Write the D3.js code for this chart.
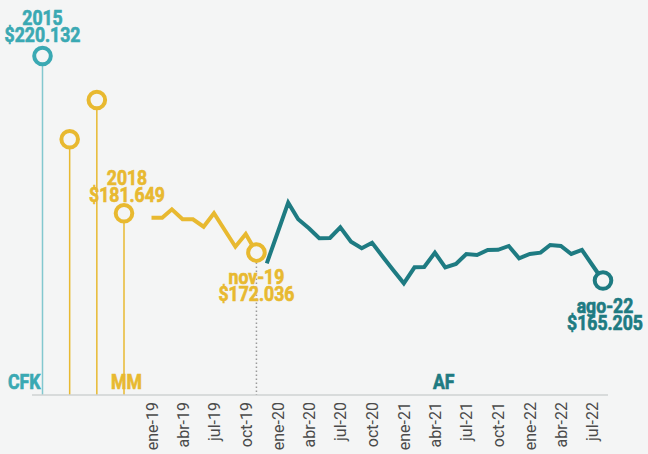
<!DOCTYPE html>
<html>
<head>
<meta charset="utf-8">
<script src="https://cdn.jsdelivr.net/npm/d3@7"></script>
<style>
  body { margin: 0; background: #f4f5f5; }
  svg { display: block; }
</style>
</head>
<body>
<div id="chart"></div>
<script>
// yearly averages (miles de pesos)
var years = [2015, 2016, 2017, 2018]
var yearValues = [220.132, 199.75, 209.37, 181.649]
var yearColors = ["#3aa9b3", "#e8b930", "#e8b930", "#e8b930"]

// monthly series
var mmMonths = ["2019-01","2019-02","2019-03","2019-04","2019-05","2019-06","2019-07","2019-08","2019-09","2019-10","2019-11"]
var mmValues = [180.57, 180.57, 182.62, 180.18, 180.18, 178.37, 181.65, 177.56, 173.47, 176.58, 172.036]

var afMonths = ["2019-12","2020-01","2020-02","2020-03","2020-04","2020-05","2020-06","2020-07","2020-08","2020-09","2020-10","2020-11","2020-12",
  "2021-01","2021-02","2021-03","2021-04","2021-05","2021-06","2021-07","2021-08","2021-09","2021-10","2021-11","2021-12",
  "2022-01","2022-02","2022-03","2022-04","2022-05","2022-06","2022-07","2022-08"]
var afValues = [169.41, 176.83, 184.24, 180.18, 177.98, 175.53, 175.6, 178.22, 174.70, 173.08, 174.45, 171.03, 167.77,
  164.52, 168.43, 168.5, 172.01, 168.43, 169.24, 171.69, 171.44, 172.67, 172.7, 173.65, 170.64,
  171.69, 172.01, 173.89, 173.65, 171.69, 172.67, 169.00, 165.205]

var tickMonths = ["2019-01","2019-04","2019-07","2019-10","2020-01","2020-04","2020-07","2020-10","2021-01","2021-04","2021-07","2021-10","2022-01","2022-04","2022-07"]
var tickLabels = ["ene-19","abr-19","jul-19","oct-19","ene-20","abr-20","jul-20","oct-20","ene-21","abr-21","jul-21","oct-21","ene-22","abr-22","jul-22"]

var TEAL_L = "#3aa9b3", TEAL_D = "#1e7b82", YEL = "#e8b930", BG = "#f4f5f5"

var width = 648, height = 454, baseY = 395

var parseM = d3.timeParse("%Y-%m")

var svg = d3.select("#chart").append("svg")
  .attr("width", width)
  .attr("height", height)
  .style("background", BG)

var x = d3.scaleTime()
  .domain([parseM("2019-01"), parseM("2022-08")])
  .range([151.5, 603])

var xYear = d3.scalePoint()
  .domain(years)
  .range([42.5, 124])

var y = d3.scaleLinear()
  .domain([165.205, 220.132])
  .range([280.5, 56])

var labelFont = "Roboto, 'Noto Sans', sans-serif"

// stems for yearly values
svg.selectAll(".stem")
  .data(years)
  .enter().append("line")
    .attr("x1", d => xYear(d))
    .attr("x2", d => xYear(d))
    .attr("y1", (d, i) => y(yearValues[i]))
    .attr("y2", baseY)
    .attr("stroke", (d, i) => i == 0 ? "#82c8cf" : YEL)
    .attr("stroke-width", 1.5)

// base line
svg.append("line")
  .attr("x1", 32).attr("x2", 608)
  .attr("y1", baseY).attr("y2", baseY)
  .attr("stroke", "#cfd2d2")
  .attr("stroke-width", 1.5)

// x axis labels
var axis = svg.append("g")
  .attr("transform", "translate(0," + baseY + ")")
  .call(d3.axisBottom(x)
    .tickValues(tickMonths.map(parseM))
    .tickSize(0)
    .tickFormat((d, i) => tickLabels[i]))
axis.select(".domain").remove()
axis.selectAll("text")
  .attr("transform", "rotate(-90)")
  .attr("text-anchor", "end")
  .attr("x", -7)
  .attr("y", 0)
  .attr("dy", "0.35em")
  .attr("fill", "#4a4a4a")
  .style("font-family", "Roboto, sans-serif")
  .style("font-weight", 400)
  .style("font-size", "16px")

// change of government marker
var lastMM = parseM(mmMonths[mmMonths.length - 1])
svg.append("line")
  .attr("x1", x(lastMM)).attr("x2", x(lastMM))
  .attr("y1", y(mmValues[mmValues.length - 1]) + 10)
  .attr("y2", baseY)
  .attr("stroke", "#9a9a9a")
  .attr("stroke-width", 1.5)
  .attr("stroke-dasharray", "1.5,2.5")

// lines
var line = d3.line()
  .x(d => x(parseM(d[0])))
  .y(d => y(d[1]))

svg.append("path")
  .datum(d3.zip(mmMonths, mmValues))
  .attr("fill", "none")
  .attr("stroke", YEL)
  .attr("stroke-width", 4)
  .attr("d", line)

svg.append("circle")
  .attr("cx", x(lastMM))
  .attr("cy", y(mmValues[mmValues.length - 1]))
  .attr("r", 8.3)
  .attr("fill", BG)
  .attr("stroke", YEL)
  .attr("stroke-width", 4)

svg.append("path")
  .datum(d3.zip(afMonths, afValues))
  .attr("fill", "none")
  .attr("stroke", TEAL_D)
  .attr("stroke-width", 4)
  .attr("d", line)

var lastAF = parseM(afMonths[afMonths.length - 1])
svg.append("circle")
  .attr("cx", x(lastAF))
  .attr("cy", y(afValues[afValues.length - 1]))
  .attr("r", 8.3)
  .attr("fill", BG)
  .attr("stroke", TEAL_D)
  .attr("stroke-width", 4)

// yearly circles
svg.selectAll(".yc")
  .data(years)
  .enter().append("circle")
    .attr("cx", d => xYear(d))
    .attr("cy", (d, i) => y(yearValues[i]))
    .attr("r", 8.3)
    .attr("fill", BG)
    .attr("stroke", (d, i) => yearColors[i])
    .attr("stroke-width", 4)

// condensed bold text: squeeze a normal bold face horizontally
function squeezed(px, py, anchor, txt, color) {
  svg.append("g")
    .attr("transform", "translate(" + px + "," + py + ") scale(0.84,1)")
    .append("text")
      .attr("text-anchor", anchor)
      .attr("fill", color)
      .attr("stroke", color)
      .attr("stroke-width", 0.7)
      .style("font-family", labelFont)
      .style("font-weight", "bold")
      .style("font-size", "21px")
      .text(txt)
}
function fmt(v) {
  return "$" + v.toFixed(3)
}
function label(cx, y1, t1, t2, color) {
  squeezed(cx, y1, "middle", t1, color)
  squeezed(cx, y1 + 17, "middle", t2, color)
}
label(xYear(2015), 25, "2015", fmt(yearValues[0]), TEAL_L)
label(xYear(2018) + 3, 185, "2018", fmt(yearValues[3]), YEL)
label(x(lastMM), 284, "nov-19", fmt(mmValues[mmValues.length - 1]), YEL)
label(x(lastAF) + 2, 313, "ago-22", fmt(afValues[afValues.length - 1]), TEAL_D)

// period labels
squeezed(40.5, 389, "end", "CFK", TEAL_L)
squeezed(111, 389, "start", "MM", YEL)
squeezed(433, 389, "start", "AF", TEAL_D)
</script>
</body>
</html>
